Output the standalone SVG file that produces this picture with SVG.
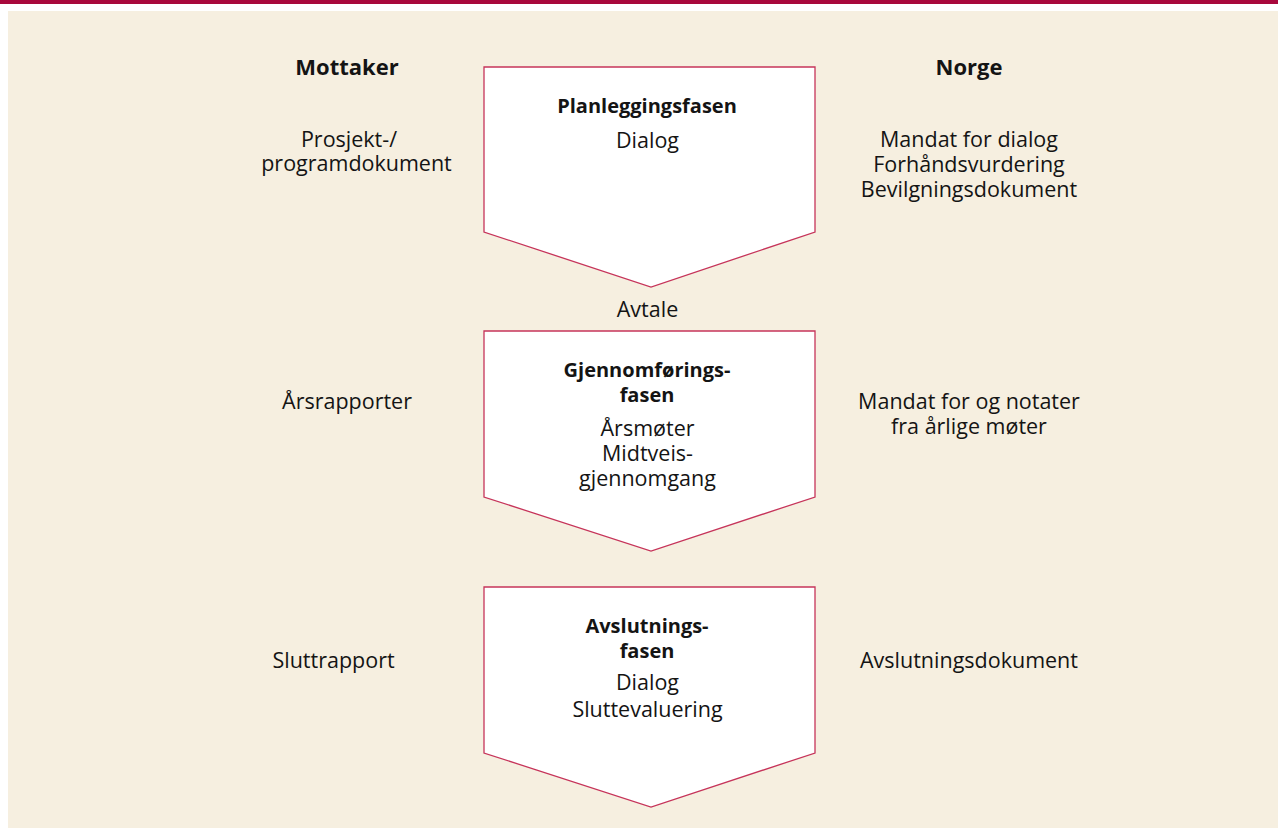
<svg xmlns="http://www.w3.org/2000/svg" width="1278" height="828" viewBox="0 0 1278 828">
<style>
text{font-family:"Open Sans","Liberation Sans",sans-serif;fill:#141414;text-anchor:middle}
.h{font-size:22px;font-weight:bold}
.b{font-size:20px;font-weight:bold}
.r{font-size:21.5px}
.phase{fill:#ffffff;stroke:#c6345a;stroke-width:1.3}
</style>
<rect x="0" y="0" width="1278" height="828" fill="#ffffff"/>
<rect x="0" y="0" width="1278" height="4" fill="#a8083c"/>
<rect x="8" y="11" width="1270" height="817" fill="#f6efe0"/>
<g id="col-mottaker">
<text class="h" x="347" y="75">Mottaker</text>
<text class="r" x="356" y="146.5"><tspan x="349">Prosjekt-/</tspan><tspan x="356.5" dy="24">programdokument</tspan></text>
<text class="r" x="347" y="409">Årsrapporter</text>
<text class="r" x="333.5" y="668">Sluttrapport</text>
</g>
<g id="col-norge">
<text class="h" x="969" y="75">Norge</text>
<text class="r" x="969" y="146.5">Mandat for dialog</text>
<text class="r" x="969" y="171.5">Forhåndsvurdering</text>
<text class="r" x="969" y="197">Bevilgningsdokument</text>
<text class="r" x="969" y="409">Mandat for og notater</text>
<text class="r" x="969" y="434">fra årlige møter</text>
<text class="r" x="969" y="668">Avslutningsdokument</text>
</g>
<g id="phase-planlegging">
<polygon class="phase" points="484,67 815,67 815,232 651,287 484,232"/>
<text class="b" x="647" y="113">Planleggingsfasen</text>
<text class="r" x="647.5" y="148">Dialog</text>
</g>
<g id="label-avtale">
<text class="r" x="647.5" y="317">Avtale</text>
</g>
<g id="phase-gjennomforing">
<polygon class="phase" points="484,331 815,331 815,497 651,551 484,497"/>
<text class="b" x="647" y="377">Gjennomførings-</text>
<text class="b" x="647" y="402">fasen</text>
<text class="r" x="647.5" y="436">Årsmøter</text>
<text class="r" x="647.5" y="461">Midtveis-</text>
<text class="r" x="647.5" y="486">gjennomgang</text>
</g>
<g id="phase-avslutning">
<polygon class="phase" points="484,587 815,587 815,753 651,807 484,753"/>
<text class="b" x="647" y="633">Avslutnings-</text>
<text class="b" x="647" y="658">fasen</text>
<text class="r" x="647.5" y="690">Dialog</text>
<text class="r" x="647.5" y="716.5">Sluttevaluering</text>
</g>
<g id="connectors"></g>
</svg>
